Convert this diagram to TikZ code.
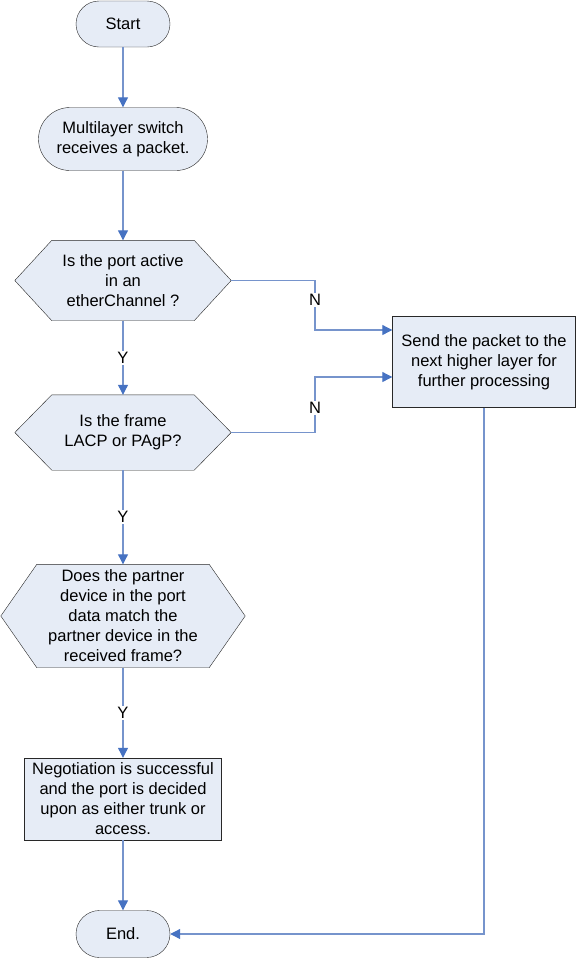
\documentclass[tikz,border=0pt]{standalone}
\usepackage{fontspec}
\setmainfont{Liberation Sans}
\usetikzlibrary{arrows.meta}
\usetikzlibrary{shapes.misc}
\usetikzlibrary{positioning}
\usetikzlibrary{backgrounds}

\definecolor{boxfill}{RGB}{230,236,246}
\definecolor{linkblue}{RGB}{118,148,204}
\definecolor{tipblue}{RGB}{70,114,194}
\definecolor{edgegrey}{RGB}{40,40,40}

\begin{document}
\begin{tikzpicture}[x=1pt,y=-1pt,
        font=\fontsize{16.5}{20}\selectfont,
        terminal/.style={rounded rectangle,draw=edgegrey,fill=boxfill,align=center,inner sep=0pt},
        process/.style={rectangle,draw=edgegrey,fill=boxfill,align=center,inner sep=0pt},
        decision/.style={rectangle,align=center,inner sep=0pt},
        hexline/.style={draw=edgegrey,fill=boxfill,line join=miter},
        flow/.style={draw=linkblue,line width=1.1pt,-{Triangle[length=10pt,width=10pt,color=tipblue]}},
        yn/.style={fill=white,inner sep=1.5pt}]
        \useasboundingbox (0,0) rectangle (576,959);

        % main column
        \node[terminal,minimum width=94,minimum height=46] (start) at (123,24) {Start};
        \node[terminal,minimum width=169,minimum height=63] (recv) at (123,139) {Multilayer switch\\receives a packet.};
        \node[decision,minimum width=216,minimum height=80] (d1) at (123,280.5) {Is the port active\\in an\\etherChannel ?};
        \node[decision,minimum width=216,minimum height=75] (d2) at (123,432.5) {Is the frame\\LACP or PAgP?};
        \node[decision,minimum width=244,minimum height=103] (d3) at (123,616) {Does the partner\\device in the port\\data match the\\partner device in the\\received frame?};
        \node[process,minimum width=197,minimum height=82] (nego) at (123,799) {Negotiation is successful\\and the port is decided\\upon as either trunk or\\access.};
        \node[terminal,minimum width=94,minimum height=47] (stop) at (123,934) {End.};

        % side box
        \node[process,minimum width=183,minimum height=91] (send) at (484,362) {Send the packet to the\\next higher layer for\\further processing};

        \begin{scope}[on background layer]
            \foreach \n/\s in {d1/37,d2/37,d3/36}
                \draw[hexline] (\n.west) -- ([xshift=\s]\n.north west) -- ([xshift=-\s]\n.north east)
                    -- (\n.east) -- ([xshift=-\s]\n.south east) -- ([xshift=\s]\n.south west) -- cycle;
        \end{scope}

        \coordinate (k1) at (315,330);
        \coordinate (k2) at (315,377);

        \draw[flow] (start.south) -- (recv.north);
        \draw[flow] (recv.south) -- (d1.north);
        \draw[flow] (d1.south) -- node[yn] {Y} (d2.north);
        \draw[flow] (d2.south) -- node[yn] {Y} (d3.north);
        \draw[flow] (d3.south) -- node[yn] {Y} (nego.north);
        \draw[flow] (nego.south) -- (stop.north);
        \draw[flow] (d1.east) -| node[yn,pos=0.7] {N} (k1) -- (k1 -| send.west);
        \draw[flow] (d2.east) -| node[yn,pos=0.72] {N} (k2) -- (k2 -| send.west);
        \draw[flow] (send.south) |- (stop.east);
\end{tikzpicture}
\end{document}
